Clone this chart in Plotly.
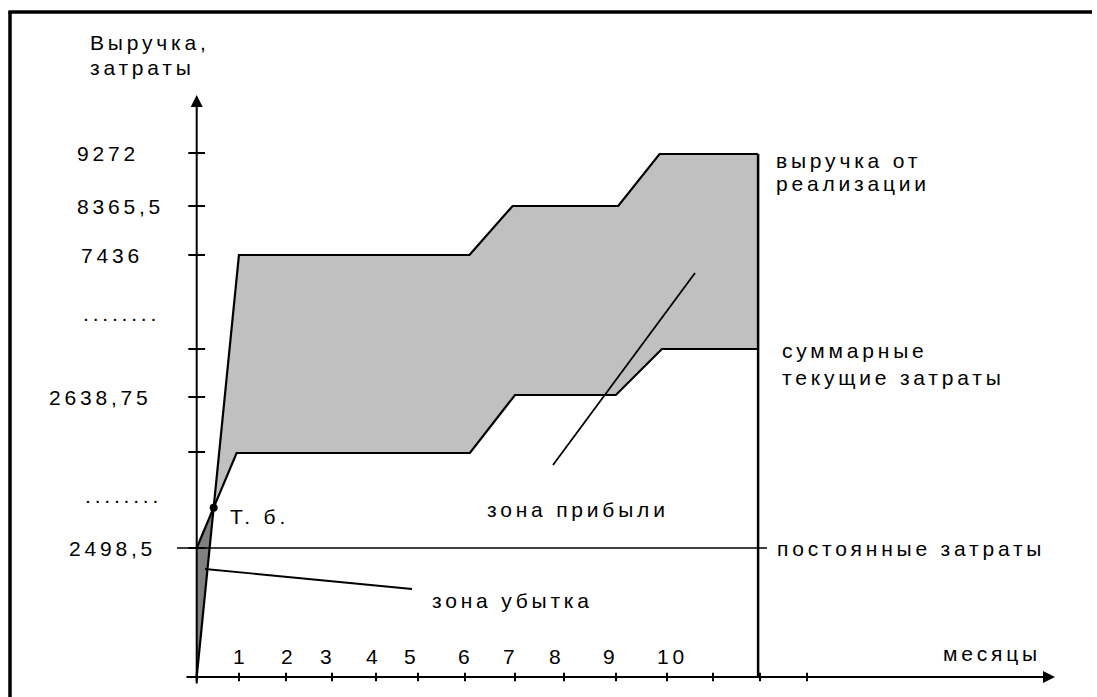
import plotly.graph_objects as go

# ---------------- data (schematic scale: x in months, y in drawing "levels") ----------------
months = [1, 2, 3, 4, 5, 6, 7, 8, 9, 10]

# revenue ("выручка от реализации") polyline
rev_x = [0.0, 0.90, 5.81, 6.73, 8.98, 9.86, 11.96]
rev_y = [0, 422, 422, 471, 471, 523, 523]

# total current costs ("суммарные текущие затраты") polyline
cost_x = [0.0, 0.85, 5.82, 6.78, 8.93, 9.91, 11.96]
cost_y = [129, 224, 224, 282, 282, 328, 328]

fixed_cost_level = 129  # "постоянные затраты" = 2498,5

ytick_labels = ["9272", "8365,5", "7436", "", "2638,75", "", "2498,5"]
ytick_levels = [524, 471, 422, 328, 280, 225, 129]

# ---------------- layout helpers (pixel <-> axis units of the drawing) ----------------
X0_PX, Y0_PX, PX_PER_MONTH = 196.7, 677.0, 46.94
W, H = 1097, 697


def X(px):
    return (px - X0_PX) / PX_PER_MONTH


def Y(py):
    return Y0_PX - py


month_tick_px = [196.7, 239, 286, 332, 376, 418, 465, 515, 564, 616, 667, 713, 760, 807]
month_label_px = [240, 288, 327, 373, 411, 465, 510, 556, 610, 672]
ylabel_center_px = [108, 120, 112, None, 100, None, 112]

FONT = "Liberation Sans"
FS = 21
LS = 3.8  # letter spacing


def sp(t, ls=LS):
    return '<span style="letter-spacing:%spx">%s</span>' % (ls, t)


def intersect(p1, p2, p3, p4):
    (x1, y1), (x2, y2), (x3, y3), (x4, y4) = p1, p2, p3, p4
    d = (x1 - x2) * (y3 - y4) - (y1 - y2) * (x3 - x4)
    t = ((x1 - x3) * (y3 - y4) - (y1 - y3) * (x3 - x4)) / d
    return x1 + t * (x2 - x1), y1 + t * (y2 - y1)


bx, by = intersect((rev_x[0], rev_y[0]), (rev_x[1], rev_y[1]),
                   (cost_x[0], cost_y[0]), (cost_x[1], cost_y[1]))

fig = go.Figure()

# loss zone (dark grey)
fig.add_trace(go.Scatter(x=[rev_x[0], bx, cost_x[0], rev_x[0]],
                         y=[rev_y[0], by, cost_y[0], rev_y[0]],
                         mode="lines", fill="toself", fillcolor="#808080",
                         line=dict(width=0), hoverinfo="skip"))

# profit zone (light grey)
px_poly = [bx] + rev_x[1:] + cost_x[:0:-1] + [bx]
py_poly = [by] + rev_y[1:] + cost_y[:0:-1] + [by]
fig.add_trace(go.Scatter(x=px_poly, y=py_poly, mode="lines", fill="toself",
                         fillcolor="#C0C0C0", line=dict(width=0), hoverinfo="skip"))

line_style = dict(color="#000000", width=2.2)
# revenue and cost lines
fig.add_trace(go.Scatter(x=rev_x, y=rev_y, mode="lines", line=line_style, hoverinfo="skip"))
fig.add_trace(go.Scatter(x=cost_x, y=cost_y, mode="lines", line=line_style, hoverinfo="skip"))
# closing vertical line
fig.add_trace(go.Scatter(x=[rev_x[-1], rev_x[-1]], y=[rev_y[-1], 0], mode="lines",
                         line=dict(color="#000000", width=2.5), hoverinfo="skip"))
# fixed cost line
fig.add_trace(go.Scatter(x=[X(177), X(767)], y=[fixed_cost_level, fixed_cost_level],
                         mode="lines", line=dict(color="#000000", width=1.6), hoverinfo="skip"))

# pointer lines for zones
fig.add_trace(go.Scatter(x=[X(205), X(412)], y=[Y(569), Y(589)], mode="lines",
                         line=dict(color="#000000", width=1.8), hoverinfo="skip"))
fig.add_trace(go.Scatter(x=[X(553), X(695)], y=[Y(465), Y(273)], mode="lines",
                         line=dict(color="#000000", width=1.8), hoverinfo="skip"))

# axis ticks
fig.add_trace(go.Scatter(x=[0] * len(ytick_levels), y=ytick_levels, mode="markers",
                         marker=dict(symbol="line-ew", size=12, line=dict(color="#000", width=2)),
                         hoverinfo="skip"))
fig.add_trace(go.Scatter(x=[X(p) for p in month_tick_px], y=[0] * len(month_tick_px), mode="markers",
                         marker=dict(symbol="line-ns", size=6, line=dict(color="#000", width=2)),
                         hoverinfo="skip"))

# break-even point
fig.add_trace(go.Scatter(x=[bx], y=[by], mode="markers",
                         marker=dict(symbol="circle", size=8, color="#000"), hoverinfo="skip"))

annotations = []
# axes with arrows
annotations.append(dict(x=X(1055), y=0, ax=X(185), ay=0, xref="x", yref="y", axref="x", ayref="y",
                        showarrow=True, arrowhead=2, arrowsize=1.2, arrowwidth=2, arrowcolor="#000",
                        text="", standoff=0))
annotations.append(dict(x=0, y=Y(95), ax=0, ay=Y(685), xref="x", yref="y", axref="x", ayref="y",
                        showarrow=True, arrowhead=2, arrowsize=1.2, arrowwidth=2, arrowcolor="#000",
                        text="", standoff=0))


def txt(s, xpx, ypx, anchor="left"):
    annotations.append(dict(x=X(xpx), y=Y(ypx), xref="x", yref="y", text=sp(s), showarrow=False,
                            xanchor=anchor, yanchor="middle",
                            font=dict(family=FONT, size=FS, color="#000")))


# y labels
for lab, lev, cx in zip(ytick_labels, ytick_levels, ylabel_center_px):
    if lab:
        txt(lab, cx, Y0_PX - lev, "center")
txt("........", 121, 313, "center")
txt("........", 123, 495, "center")

# month labels
for m, cx in zip(months, month_label_px):
    txt(str(m), cx, 656, "center")

txt("Выручка,", 88, 42)
txt("затраты", 88, 67)
txt("выручка от", 774, 160)
txt("реализации", 774, 183)
txt("суммарные", 780, 350)
txt("текущие затраты", 780, 377)
txt("постоянные затраты", 775, 548)
txt("месяцы", 941, 653)
txt("зона прибыли", 485, 509)
txt("зона убытка", 430, 600)
txt("Т. б.", 228, 516)

shapes = [
    dict(type="line", xref="paper", yref="paper", x0=10 / W, x1=10 / W, y0=1 - 11 / H, y1=0,
         line=dict(color="#000", width=3.5)),
    dict(type="line", xref="paper", yref="paper", x0=8.5 / W, x1=1092 / W, y0=1 - 12 / H, y1=1 - 12 / H,
         line=dict(color="#000", width=3.5)),
]

fig.update_layout(
    width=W, height=H,
    margin=dict(l=0, r=0, t=0, b=0),
    paper_bgcolor="#FFFFFF", plot_bgcolor="#FFFFFF",
    showlegend=False,
    xaxis=dict(range=[X(0), X(W)], visible=False, fixedrange=True),
    yaxis=dict(range=[Y(H), Y(0)], visible=False, fixedrange=True),
    annotations=annotations,
    shapes=shapes,
)

fig.write_html("out.html", config={"displayModeBar": False},
               post_script="document.body.style.margin='0';document.body.style.overflow='hidden';")
